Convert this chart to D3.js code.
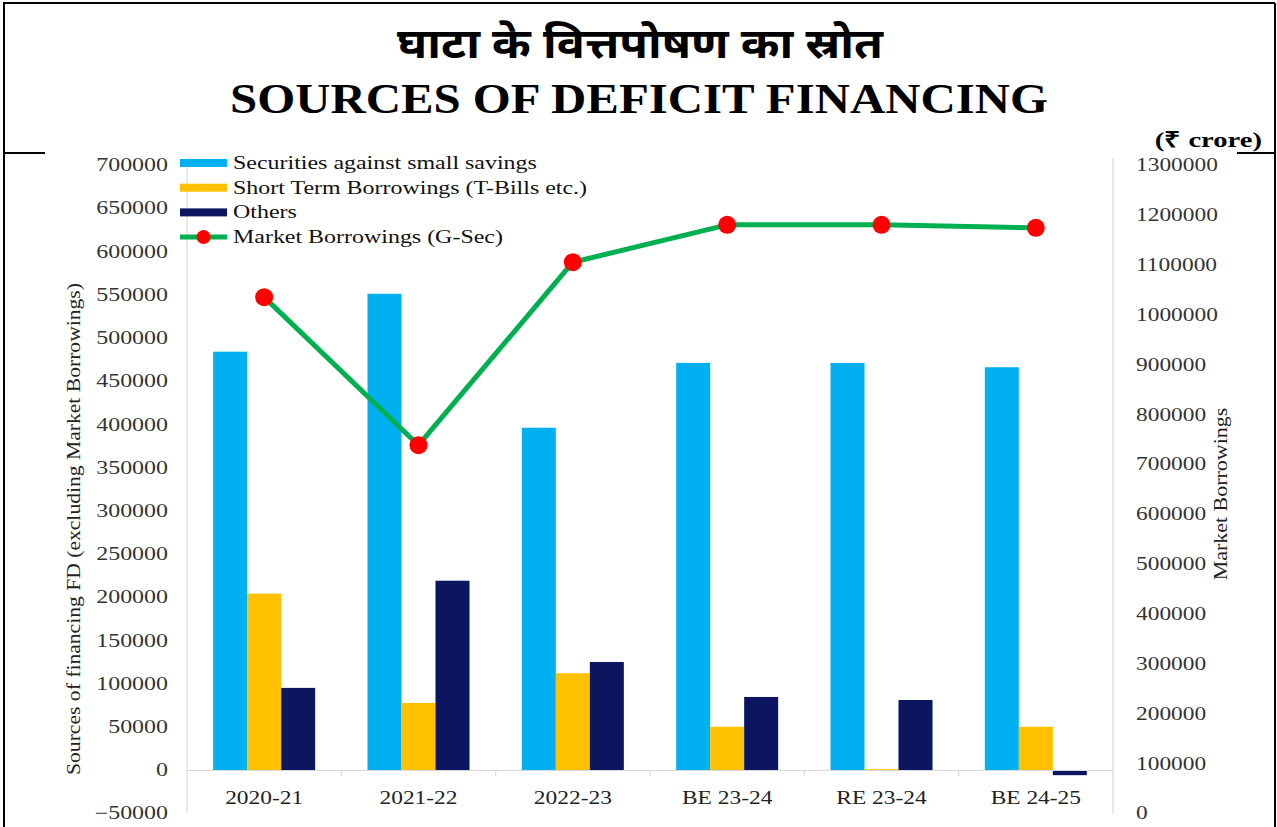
<!DOCTYPE html>
<html>
<head>
<meta charset="utf-8">
<script src="https://cdn.jsdelivr.net/npm/d3@7"></script>
<style>
  html, body { margin: 0; padding: 0; background: #fff; }
  svg { display: block; }
</style>
</head>
<body>
<svg id="chart" width="1277" height="827"></svg>
<script>
// Fiscal years shown on the category axis
const categories = ["2020-21", "2021-22", "2022-23", "BE 23-24", "RE 23-24", "BE 24-25"];

// Sources of financing the fiscal deficit (₹ crore), left axis
const smallSavings = [484000, 551000, 396000, 471000, 471000, 466000];
const shortTerm    = [204000, 77500, 112000, 50000, 1000, 50000];
const others       = [95000, 219000, 125000, 84500, 81000, -6000];

// Market borrowings through G-Secs (₹ crore), right axis
const marketBorrowings = [1035000, 738000, 1105000, 1180000, 1180000, 1174000];

// Axis ticks
const leftTicks  = [-50000, 0, 50000, 100000, 150000, 200000, 250000, 300000, 350000,
                    400000, 450000, 500000, 550000, 600000, 650000, 700000];
const rightTicks = [0, 100000, 200000, 300000, 400000, 500000, 600000, 700000,
                    800000, 900000, 1000000, 1100000, 1200000, 1300000];

const barSeries = [
  { name: "Securities against small savings", values: smallSavings, color: "#00b0f0" },
  { name: "Short Term Borrowings (T-Bills etc.)", values: shortTerm, color: "#ffc000" },
  { name: "Others", values: others, color: "#0b1560" }
];
const lineName = "Market Borrowings (G-Sec)";

const serif = "'Liberation Serif', 'Times New Roman', Times, serif";
const svg = d3.select("#chart");

// Widen text glyphs horizontally by a factor (keeps the text anchor in place)
function widen(sel, factor) {
  sel.each(function () {
    const w = this.getComputedTextLength();
    d3.select(this).attr("textLength", w * factor).attr("lengthAdjust", "spacingAndGlyphs");
  });
}

// ---- Frame ----
const frame = svg.append("g").attr("stroke", "#000").attr("stroke-width", 2).attr("fill", "none");
frame.append("line").attr("x1", 3).attr("x2", 1275).attr("y1", 3).attr("y2", 3);
frame.append("line").attr("x1", 4).attr("x2", 4).attr("y1", 3).attr("y2", 827);
frame.append("line").attr("x1", 1275).attr("x2", 1275).attr("y1", 3).attr("y2", 827);
frame.append("line").attr("x1", 4).attr("x2", 45).attr("y1", 153).attr("y2", 153);
frame.append("line").attr("x1", 1237).attr("x2", 1275).attr("y1", 153).attr("y2", 153);

// ---- Titles ----
svg.append("text")
  .attr("x", 640).attr("y", 58)
  .attr("text-anchor", "middle")
  .attr("font-family", "'Noto Sans Devanagari', 'Lohit Devanagari', 'Noto Sans', sans-serif")
  .attr("font-weight", "bold")
  .attr("font-size", 42)
  .attr("textLength", 486)
  .attr("lengthAdjust", "spacingAndGlyphs")
  .attr("fill", "#000")
  .text("घाटा के वित्तपोषण का स्रोत");

svg.append("text")
  .attr("x", 639).attr("y", 113)
  .attr("text-anchor", "middle")
  .attr("font-family", serif)
  .attr("font-weight", "bold")
  .attr("font-size", 43)
  .attr("textLength", 818)
  .attr("lengthAdjust", "spacingAndGlyphs")
  .attr("fill", "#000")
  .text("SOURCES OF DEFICIT FINANCING");

svg.append("text")
  .attr("x", 1262).attr("y", 147)
  .attr("text-anchor", "end")
  .attr("font-family", serif)
  .attr("font-weight", "bold")
  .attr("font-size", 22)
  .attr("fill", "#000")
  .text("(₹ crore)")
  .call(widen, 1.3);

// ---- Scales ----
const plotLeft = 187, plotRight = 1113;
const x = d3.scaleBand().domain(categories).range([plotLeft, plotRight]).paddingInner(0).paddingOuter(0);
const yL = d3.scaleLinear().domain([-50000, 700000]).range([813.2, 165]);
const yR = d3.scaleLinear().domain([0, 1300000]).range([813.2, 165]);

const groupWidth = 102;
const xSub = d3.scaleBand().domain(barSeries.map(s => s.name))
  .range([0, groupWidth]);
const groupOffset = (x.bandwidth() - groupWidth) / 2;

// ---- Axis lines ----
svg.append("line")
  .attr("x1", plotLeft).attr("x2", plotLeft)
  .attr("y1", 158).attr("y2", yL(-50000))
  .attr("stroke", "#d9d9d9").attr("stroke-width", 1.2);
svg.append("line")
  .attr("x1", plotRight).attr("x2", plotRight)
  .attr("y1", 158).attr("y2", yL(-50000))
  .attr("stroke", "#d9d9d9").attr("stroke-width", 1.2);

// ---- Bars ----
barSeries.forEach(s => {
  svg.append("g")
    .selectAll("rect")
    .data(categories.map((c, i) => ({ c, v: s.values[i] })))
    .join("rect")
    .attr("x", d => x(d.c) + groupOffset + xSub(s.name))
    .attr("width", xSub.bandwidth())
    .attr("y", d => Math.min(yL(d.v), yL(0)))
    .attr("height", d => Math.abs(yL(d.v) - yL(0)))
    .attr("fill", s.color);
});

// ---- Category axis (zero line) ----
const xAxis = d3.axisBottom(x).tickSize(0).tickPadding(21);
const gx = svg.append("g").attr("transform", `translate(0,${yL(0)})`).call(xAxis);
gx.select(".domain").attr("stroke", "#d9d9d9").attr("stroke-width", 1.2);
gx.selectAll(".tick text")
  .attr("font-family", serif).attr("font-size", 18).attr("fill", "#222")
  .call(widen, 1.3);
// boundary ticks between categories
svg.append("g")
  .selectAll("line")
  .data(categories.slice(1))
  .join("line")
  .attr("x1", d => x(d)).attr("x2", d => x(d))
  .attr("y1", yL(0)).attr("y2", yL(0) + 6)
  .attr("stroke", "#d9d9d9").attr("stroke-width", 1.2);

// ---- Left axis labels ----
const gyL = svg.append("g").attr("transform", `translate(${plotLeft},0)`)
  .call(d3.axisLeft(yL).tickValues(leftTicks).tickSize(0).tickPadding(19).tickFormat(d3.format("d")));
gyL.select(".domain").remove();
gyL.selectAll(".tick text")
  .attr("font-family", serif).attr("font-size", 18).attr("fill", "#333")
  .call(widen, 1.33);

// ---- Right axis labels ----
const gyR = svg.append("g").attr("transform", `translate(${plotRight},0)`)
  .call(d3.axisRight(yR).tickValues(rightTicks).tickSize(0).tickPadding(23).tickFormat(d3.format("d")));
gyR.select(".domain").remove();
gyR.selectAll(".tick text")
  .attr("font-family", serif).attr("font-size", 18).attr("fill", "#333")
  .call(widen, 1.3);

// ---- Axis titles ----
svg.append("text")
  .attr("transform", `translate(80,529) rotate(-90)`)
  .attr("text-anchor", "middle")
  .attr("font-family", serif).attr("font-size", 18).attr("fill", "#222")
  .text("Sources of  financing FD (excluding Market Borrowings)")
  .call(widen, 1.2);

svg.append("text")
  .attr("transform", `translate(1227,494) rotate(-90)`)
  .attr("text-anchor", "middle")
  .attr("font-family", serif).attr("font-size", 18).attr("fill", "#222")
  .text("Market Borrowings")
  .call(widen, 1.22);

// ---- Market borrowings line ----
const line = d3.line()
  .x((d, i) => x(categories[i]) + x.bandwidth() / 2)
  .y(d => yR(d));
svg.append("path")
  .datum(marketBorrowings)
  .attr("d", line)
  .attr("fill", "none")
  .attr("stroke", "#00b050")
  .attr("stroke-width", 5)
  .attr("stroke-linejoin", "round");
svg.append("g")
  .selectAll("circle")
  .data(marketBorrowings)
  .join("circle")
  .attr("cx", (d, i) => x(categories[i]) + x.bandwidth() / 2)
  .attr("cy", d => yR(d))
  .attr("r", 9)
  .attr("fill", "#ff0000");

// ---- Legend ----
const legend = svg.append("g").attr("transform", "translate(180,163)");
const legendItems = barSeries.map(s => ({ name: s.name, color: s.color, type: "bar" }))
  .concat([{ name: lineName, color: "#00b050", type: "line" }]);
const rowH = 24.7;
legendItems.forEach((d, i) => {
  const g = legend.append("g").attr("transform", `translate(0,${i * rowH})`);
  if (d.type === "bar") {
    g.append("rect").attr("x", 0).attr("y", -4).attr("width", 47).attr("height", 8).attr("fill", d.color);
  } else {
    g.append("line").attr("x1", 0).attr("x2", 47).attr("y1", 0).attr("y2", 0)
      .attr("stroke", d.color).attr("stroke-width", 5);
    g.append("circle").attr("cx", 23.5).attr("cy", 0).attr("r", 7).attr("fill", "#ff0000");
  }
  g.append("text")
    .attr("x", 53).attr("y", 6)
    .attr("font-family", serif).attr("font-size", 18).attr("fill", "#111")
    .text(d.name)
    .call(widen, 1.33);
});
</script>
</body>
</html>
